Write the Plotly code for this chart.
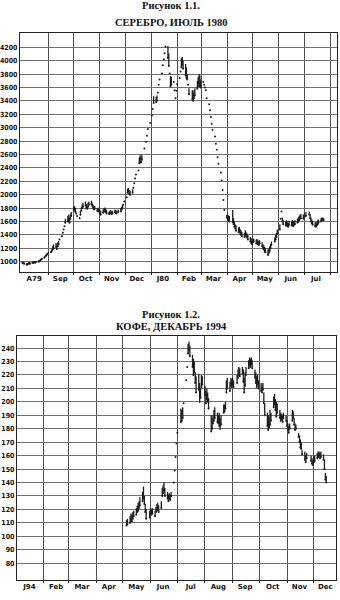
import plotly.graph_objects as go

# ---------------- Silver, July 1980 (cents/oz) ----------------
silver_dates = [
 "1979-08-01","1979-08-02","1979-08-03","1979-08-06","1979-08-07","1979-08-08","1979-08-09","1979-08-10",
 "1979-08-13","1979-08-14","1979-08-15","1979-08-16","1979-08-17","1979-08-20","1979-08-21","1979-08-22",
 "1979-08-23","1979-08-24","1979-08-27","1979-08-28","1979-08-29","1979-08-30","1979-08-31",
 "1979-09-04","1979-09-05","1979-09-06","1979-09-07","1979-09-10","1979-09-11","1979-09-12","1979-09-13",
 "1979-09-14","1979-09-17","1979-09-18","1979-09-19","1979-09-20","1979-09-21","1979-09-24","1979-09-25",
 "1979-09-26","1979-09-27","1979-09-28",
 "1979-10-01","1979-10-02","1979-10-03","1979-10-04","1979-10-05","1979-10-08","1979-10-09","1979-10-10",
 "1979-10-11","1979-10-12","1979-10-15","1979-10-16","1979-10-17","1979-10-18","1979-10-19","1979-10-22",
 "1979-10-23","1979-10-24","1979-10-25","1979-10-26","1979-10-29","1979-10-30","1979-10-31",
 "1979-11-01","1979-11-02","1979-11-05","1979-11-06","1979-11-07","1979-11-08","1979-11-09","1979-11-12",
 "1979-11-13","1979-11-14","1979-11-15","1979-11-16","1979-11-19","1979-11-20","1979-11-21","1979-11-23",
 "1979-11-26","1979-11-27","1979-11-28","1979-11-29","1979-11-30",
 "1979-12-03","1979-12-04","1979-12-05","1979-12-06","1979-12-07","1979-12-10","1979-12-11","1979-12-12",
 "1979-12-13","1979-12-14","1979-12-17","1979-12-18","1979-12-19","1979-12-20","1979-12-21","1979-12-24",
 "1979-12-26","1979-12-27","1979-12-28","1979-12-31",
 "1980-01-02","1980-01-03","1980-01-04","1980-01-07","1980-01-08","1980-01-09","1980-01-10","1980-01-11",
 "1980-01-14","1980-01-15","1980-01-16","1980-01-17","1980-01-18","1980-01-21","1980-01-22","1980-01-23",
 "1980-01-24","1980-01-25","1980-01-28","1980-01-29","1980-01-30","1980-01-31",
 "1980-02-01","1980-02-04","1980-02-05","1980-02-06","1980-02-07","1980-02-08","1980-02-11","1980-02-12",
 "1980-02-13","1980-02-14","1980-02-15","1980-02-19","1980-02-20","1980-02-21","1980-02-22","1980-02-25",
 "1980-02-26","1980-02-27","1980-02-28","1980-02-29",
 "1980-03-03","1980-03-04","1980-03-05","1980-03-06","1980-03-07","1980-03-10","1980-03-11","1980-03-12",
 "1980-03-13","1980-03-14","1980-03-17","1980-03-18","1980-03-19","1980-03-20","1980-03-21","1980-03-24",
 "1980-03-25","1980-03-26","1980-03-27","1980-03-28","1980-03-31",
 "1980-04-01","1980-04-02","1980-04-03","1980-04-07","1980-04-08","1980-04-09","1980-04-10","1980-04-11",
 "1980-04-14","1980-04-15","1980-04-16","1980-04-17","1980-04-18","1980-04-21","1980-04-22","1980-04-23",
 "1980-04-24","1980-04-25","1980-04-28","1980-04-29","1980-04-30",
 "1980-05-01","1980-05-02","1980-05-05","1980-05-06","1980-05-07","1980-05-08","1980-05-09","1980-05-12",
 "1980-05-13","1980-05-14","1980-05-15","1980-05-16","1980-05-19","1980-05-20","1980-05-21","1980-05-22",
 "1980-05-23","1980-05-27","1980-05-28","1980-05-29","1980-05-30",
 "1980-06-02","1980-06-03","1980-06-04","1980-06-05","1980-06-06","1980-06-09","1980-06-10","1980-06-11",
 "1980-06-12","1980-06-13","1980-06-16","1980-06-17","1980-06-18","1980-06-19","1980-06-20","1980-06-23",
 "1980-06-24","1980-06-25","1980-06-26","1980-06-27","1980-06-30",
 "1980-07-01","1980-07-03","1980-07-07","1980-07-08","1980-07-09","1980-07-10","1980-07-11","1980-07-14",
 "1980-07-15","1980-07-16","1980-07-17","1980-07-18","1980-07-21","1980-07-22","1980-07-23","1980-07-24",
]
silver_low = [
 980,975,970,955,960,965,975,970, 980,985,990,985,995,1000,1005,1015, 1030,1040,1060,1075,1090,1105,1120,
 1140,1160,1180,1200,1220,1190,1230,1260, 1330,1380,1430,1480,1530,1580,1600,1620, 1580,1640,1680,
 1760,1780,1740,1720,1680,1650,1700,1760, 1800,1820,1840,1800,1790,1820,1850,1860, 1830,1800,1780,1790,1760,1750,1760,
 1720,1700,1730,1750,1770,1740,1720,1710, 1720,1730,1710,1720,1740,1730,1720,1740, 1750,1780,1800,1850,1900,
 1960,2030,2050,2010,2000,2030,2100,2170, 2240,2300,2360,2470,2490,2480,2520,2690, 2790,2880,2980,3070,
 3180,3280,3370,3380,3400,3520,3640,3720, 3810,3930,4020,4110,4210,4040,3920,3810, 3620,3640,3680,3560,3440,3550,
 3650,3740,3840,3900,3940,3880,3780,3740, 3720,3640,3500,3420,3400,3440,3480,3580, 3620,3650,3620,3600,
 3680,3640,3600,3560,3440,3350,3260,3160, 3060,2970,2870,2760,2670,2560,2460,2330, 2210,2070,1920,1770,1660,
 1640,1620,1600,1590,1560,1520,1490,1460, 1440,1450,1420,1400,1380,1370,1400,1380, 1360,1330,1300,1280,1260,
 1290,1300,1270,1280,1260,1250,1270,1230, 1200,1180,1150,1140,1100,1130,1160,1200, 1250,1300,1330,1370,1420,
 1480,1640,1750,1600,1560,1540,1560,1530, 1520,1550,1540,1560,1530,1550,1560,1580, 1600,1620,1640,1650,1640,
 1660,1680,1700,1650,1600,1570,1550,1530, 1520,1540,1560,1580,1600,1620,1630,1620,
]
silver_high = [
 1000,995,990,975,980,985,995,990, 1000,1005,1010,1005,1010,1015,1020,1030, 1045,1055,1075,1090,1105,1120,1135,
 1160,1190,1230,1260,1280,1250,1290,1310, 1330,1380,1430,1480,1530,1640,1680,1700, 1660,1710,1740,
 1820,1830,1800,1720,1680,1650,1760,1810, 1850,1880,1900,1860,1840,1880,1900,1910, 1880,1850,1830,1830,1800,1790,1810,
 1780,1760,1780,1800,1810,1790,1770,1750, 1760,1770,1750,1760,1780,1770,1760,1780, 1800,1820,1850,1850,1900,
 1960,2090,2100,2070,2060,2080,2100,2170, 2240,2300,2360,2560,2590,2560,2590,2690, 2790,2880,2980,3070,
 3180,3280,3470,3460,3480,3520,3640,3720, 3810,3930,4020,4110,4210,4220,4110,3810, 3770,3760,3680,3560,3440,3550,
 3650,3740,3840,4040,4060,4000,3950,3900, 3800,3640,3590,3560,3520,3560,3590,3700, 3760,3800,3780,3720,
 3680,3640,3600,3560,3440,3350,3260,3160, 3060,2970,2870,2760,2670,2560,2460,2330, 2210,2070,1920,1770,1700,
 1700,1690,1680,1770,1650,1600,1560,1540, 1510,1520,1480,1460,1440,1430,1470,1440, 1420,1400,1370,1350,1330,
 1350,1340,1330,1340,1320,1310,1320,1290, 1260,1240,1220,1200,1180,1200,1230,1260, 1300,1360,1400,1430,1480,
 1560,1640,1750,1660,1620,1600,1620,1590, 1580,1610,1600,1620,1600,1610,1620,1640, 1660,1680,1700,1710,1700,
 1720,1740,1750,1710,1660,1630,1610,1590, 1580,1600,1620,1630,1650,1660,1660,1650,
]
silver_ticks = ["1979-08-15","1979-09-15","1979-10-15","1979-11-15","1979-12-15","1980-01-15",
                "1980-02-15","1980-03-15","1980-04-15","1980-05-15","1980-06-15","1980-07-15"]
silver_ticktext = ["A79","Sep","Oct","Nov","Dec","J80","Feb","Mar","Apr","May","Jun","Jul"]
silver_months = ["1979-09-01","1979-10-01","1979-11-01","1979-12-01","1980-01-01","1980-02-01",
                 "1980-03-01","1980-04-01","1980-05-01","1980-06-01","1980-07-01","1980-08-01"]
silver_yticks = list(range(1000, 4201, 200))

# ---------------- Coffee, December 1994 (cents/lb) ----------------
coffee_dates = [
 "1994-05-05","1994-05-06","1994-05-09","1994-05-10","1994-05-11","1994-05-12","1994-05-13","1994-05-16",
 "1994-05-17","1994-05-18","1994-05-19","1994-05-20","1994-05-23","1994-05-24","1994-05-25","1994-05-26",
 "1994-05-27","1994-05-31",
 "1994-06-01","1994-06-02","1994-06-03","1994-06-06","1994-06-07","1994-06-08","1994-06-09","1994-06-10",
 "1994-06-13","1994-06-14","1994-06-15","1994-06-16","1994-06-17","1994-06-20","1994-06-21","1994-06-22",
 "1994-06-23","1994-06-24","1994-06-27","1994-06-28","1994-06-29","1994-06-30",
 "1994-07-01","1994-07-05","1994-07-06","1994-07-07","1994-07-08","1994-07-11","1994-07-12","1994-07-13",
 "1994-07-14","1994-07-15","1994-07-18","1994-07-19","1994-07-20","1994-07-21","1994-07-22","1994-07-25",
 "1994-07-26","1994-07-27","1994-07-28","1994-07-29",
 "1994-08-01","1994-08-02","1994-08-03","1994-08-04","1994-08-05","1994-08-08","1994-08-09","1994-08-10",
 "1994-08-11","1994-08-12","1994-08-15","1994-08-16","1994-08-17","1994-08-18","1994-08-19","1994-08-22",
 "1994-08-23","1994-08-24","1994-08-25","1994-08-26","1994-08-29","1994-08-30","1994-08-31",
 "1994-09-01","1994-09-02","1994-09-06","1994-09-07","1994-09-08","1994-09-09","1994-09-12","1994-09-13",
 "1994-09-14","1994-09-15","1994-09-16","1994-09-19","1994-09-20","1994-09-21","1994-09-22","1994-09-23",
 "1994-09-26","1994-09-27","1994-09-28","1994-09-29","1994-09-30",
 "1994-10-03","1994-10-04","1994-10-05","1994-10-06","1994-10-07","1994-10-10","1994-10-11","1994-10-12",
 "1994-10-13","1994-10-14","1994-10-17","1994-10-18","1994-10-19","1994-10-20","1994-10-21","1994-10-24",
 "1994-10-25","1994-10-26","1994-10-27","1994-10-28","1994-10-31",
 "1994-11-01","1994-11-02","1994-11-03","1994-11-04","1994-11-07","1994-11-08","1994-11-09","1994-11-10",
 "1994-11-11","1994-11-14","1994-11-15","1994-11-16","1994-11-17","1994-11-18","1994-11-21","1994-11-22",
 "1994-11-23","1994-11-28","1994-11-29","1994-11-30",
 "1994-12-01","1994-12-02","1994-12-05","1994-12-06","1994-12-07","1994-12-08","1994-12-09","1994-12-12",
 "1994-12-13","1994-12-14","1994-12-15",
]
coffee_low = [
 108,109,110,112,111,113,115,116, 118,119,121,123,126,128,124,118, 113,114,
 117,116,117,115,118,119,120,118, 121,130,132,134,130,128,126,128, 127,130,140,149,159,169,
 177,185,186,188,199,216,226,236, 238,234,226,220,222,214,207,209, 200,203,211,213,
 205,199,202,200,195,178,180,184, 186,188,185,184,182,180,183,192, 193,195,207,210,208,212,211,
 213,211,214,218,220,219,221,215, 207,212,220,225,227,226,228,225, 218,214,211,213,210,
 208,207,209,199,190,182,179,181, 183,186,196,198,194,189,192,188, 186,187,185,188,186,
 182,179,177,180,186,188,183,179, 180,174,170,166,165,161,157,155, 158,156,154,153,
 155,156,158,159,160,158,159,157, 150,142,140,
]
coffee_high = [
 112,113,115,117,116,118,119,121, 123,125,126,129,133,137,130,124, 120,119,
 121,120,121,119,122,124,125,123, 126,136,138,140,136,133,131,132, 131,133,140,149,159,169,
 177,195,194,196,199,216,226,243, 245,242,235,232,230,222,219,221, 214,210,220,219,
 212,208,210,207,203,190,188,190, 194,196,192,190,192,188,190,198, 198,200,216,218,215,218,217,
 218,216,220,224,226,225,226,224, 218,222,226,231,233,232,233,231, 224,222,219,220,216,
 214,212,214,207,199,192,190,189, 194,192,204,206,202,200,199,194, 192,191,190,192,190,
 186,184,182,184,194,193,188,184, 183,177,175,172,170,164,163,160, 162,160,158,157,
 160,160,162,163,163,162,163,161, 157,147,145,
]
coffee_ticks = ["1994-01-16","1994-02-15","1994-03-16","1994-04-15","1994-05-16","1994-06-15",
                "1994-07-16","1994-08-16","1994-09-15","1994-10-16","1994-11-15","1994-12-14"]
coffee_ticktext = ["J94","Feb","Mar","Apr","May","Jun","Jul","Aug","Sep","Oct","Nov","Dec"]
coffee_months = ["1994-02-01","1994-03-01","1994-04-01","1994-05-01","1994-06-01","1994-07-01",
                 "1994-08-01","1994-09-01","1994-10-01","1994-11-01","1994-12-01"]
coffee_yticks = list(range(80, 241, 10))

INK = "#1c1c1c"
HGRID = "#707070"
VGRID = "#505050"


def bars(dates, low, high, xa, ya):
    return go.Scatter(
        x=dates, y=low, mode="markers", xaxis=xa, yaxis=ya,
        marker=dict(size=2, color=INK),
        error_y=dict(type="data", symmetric=False,
                     array=[h - l for l, h in zip(low, high)],
                     arrayminus=[0] * len(low), width=0, thickness=1.3, color=INK),
        hoverinfo="skip", showlegend=False,
    )


fig = go.Figure()
fig.add_trace(bars(silver_dates, silver_low, silver_high, "x", "y"))
fig.add_trace(bars(coffee_dates, coffee_low, coffee_high, "x2", "y2"))

xfont = dict(family="DejaVu Sans", size=7, color="#111", weight="bold")
yfont = dict(family="Liberation Sans Narrow, DejaVu Sans Condensed, sans-serif", size=7, color="#111", weight="bold")

common_x = dict(type="date", showgrid=False, showline=True, mirror=True, linecolor="#222", linewidth=1,
                ticks="", tickfont=xfont, zeroline=False, fixedrange=True)
common_y = dict(showgrid=True, gridcolor=HGRID, gridwidth=1, showline=True, mirror=True,
                linecolor="#222", linewidth=1, ticks="", tickfont=yfont, zeroline=False, fixedrange=True)

fig.update_layout(
    width=340, height=600, autosize=False,
    margin=dict(l=0, r=0, t=0, b=0),
    paper_bgcolor="white", plot_bgcolor="white",
    xaxis=dict(common_x, domain=[18 / 340, 337 / 340], range=["1979-07-29", "1980-08-09"], anchor="y",
               tickmode="array", tickvals=silver_ticks, ticktext=silver_ticktext,
               minor=dict(tickmode="array", tickvals=silver_months, showgrid=True, gridcolor=VGRID,
                          gridwidth=1, ticks="outside", ticklen=2, tickcolor="#222")),
    yaxis=dict(common_y, domain=[1 - 272 / 600, 1 - 33 / 600], range=[846, 4413], anchor="x",
               tickmode="array", tickvals=silver_yticks),
    xaxis2=dict(common_x, domain=[15 / 340, 336 / 340], range=["1994-01-02", "1994-12-26"], anchor="y2",
                tickmode="array", tickvals=coffee_ticks, ticktext=coffee_ticktext,
                minor=dict(tickmode="array", tickvals=coffee_months, showgrid=True, gridcolor=VGRID,
                           gridwidth=1, ticks="outside", ticklen=2, tickcolor="#222")),
    yaxis2=dict(common_y, domain=[1 - 580 / 600, 1 - 336 / 600], range=[67.5, 249], anchor="x2",
                tickmode="array", tickvals=coffee_yticks),
)

tfont = dict(family="Liberation Serif, DejaVu Serif, serif", size=10.5, color="#111", weight="bold")
for txt, ypx in [("Рисунок 1.1.", 5.5), ("СЕРЕБРО, ИЮЛЬ 1980", 22.5),
                 ("Рисунок 1.2.", 314), ("КОФЕ, ДЕКАБРЬ 1994", 326.5)]:
    fig.add_annotation(text=txt, x=0.5, y=1 - ypx / 600, xref="paper", yref="paper",
                       xanchor="center", yanchor="middle", showarrow=False, font=tfont)

fig.write_html("out.html")
